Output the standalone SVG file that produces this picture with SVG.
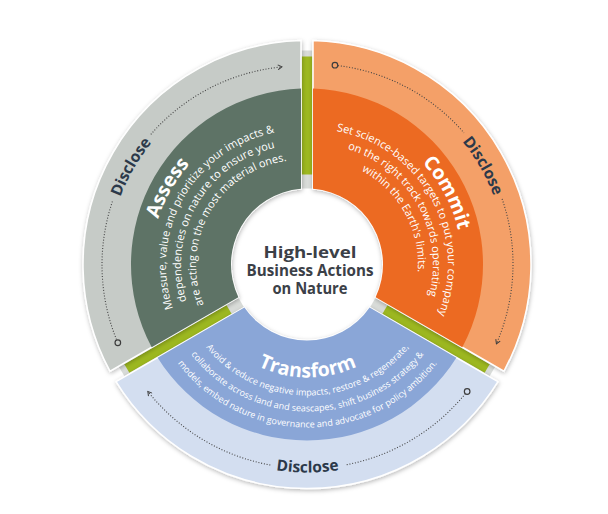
<svg xmlns="http://www.w3.org/2000/svg" width="608" height="514" viewBox="0 0 608 514">
<defs>
<style>
.disc{font-family:"Open Sans","Liberation Sans",sans-serif;font-weight:700;font-size:15.5px;fill:#2c394a}
.ttl{font-family:"Open Sans","Liberation Sans",sans-serif;font-weight:700;font-size:19.5px;fill:#ffffff}
.body{font-family:"Open Sans","Liberation Sans",sans-serif;font-size:11px;fill:#ffffff}
.small{font-size:9px}
.ctr{font-family:"Open Sans","Liberation Sans",sans-serif;font-weight:700;font-size:16px;fill:#3b4047}
.dots{fill:none;stroke:#454545;stroke-width:1.1;stroke-dasharray:1 1.8}
.ring{fill:none;stroke:#3d3d3d;stroke-width:1.2}
.edge{stroke:#ffffff;stroke-width:1.5}
.gapg{fill:#d9dcd9}
.bar{fill:#9db820}
</style>
<filter id="sh" x="-15%" y="-15%" width="130%" height="130%"><feDropShadow dx="0.5" dy="1.5" stdDeviation="2.2" flood-color="#000000" flood-opacity="0.28"/></filter>
<marker id="arr" viewBox="0 0 6 6" markerWidth="6" markerHeight="6" refX="5" refY="3" orient="auto" markerUnits="userSpaceOnUse"><path d="M1,0.6 L5,3 L1,5.4" fill="none" stroke="#3d3d3d" stroke-width="1"/></marker>
<path id="g-disc" d="M108,265 A193,193 0 0 1 204.5,97.86"/>
<path id="g-title" d="M153.28,291.05 A150,150 0 0 1 249.70,124.05"/>
<path id="g-l1" d="M205.54,360.46 A135,135 0 0 1 335.94,134.60"/>
<path id="g-l2" d="M216.15,349.85 A120,120 0 0 1 332.06,149.09"/>
<path id="g-l3" d="M226.75,339.25 A105,105 0 0 1 328.18,163.58"/>
<path id="o-disc" d="M409.5,96.86 A193,193 0 0 1 506,264"/>
<path id="o-title" d="M368.82,125.85 A149,149 0 0 1 458.75,294.98"/>
<path id="o-l1" d="M280.34,133.01 A135,135 0 0 1 406.78,361.11"/>
<path id="o-l2" d="M283.97,147.56 A120,120 0 0 1 396.36,350.32"/>
<path id="o-l3" d="M287.60,162.12 A105,105 0 0 1 385.94,339.53"/>
<path id="b-disc" d="M219.60,453.01 A208,208 0 0 0 395.40,453.01"/>
<path id="b-title" d="M234.86,351.06 A113,113 0 0 0 380.14,351.06"/>
<path id="b-l1" d="M184.40,309.30 A131,131 0 0 0 430.60,309.30"/>
<path id="b-l2" d="M169.37,314.78 A147,147 0 0 0 445.63,314.78"/>
<path id="b-l3" d="M154.33,320.25 A163,163 0 0 0 460.67,320.25"/>
</defs>
<rect width="608" height="514" fill="#ffffff"/>

<g id="gaps">
<g>
<rect class="gapg" x="301.5" y="50.5" width="11" height="138"/>
<rect class="bar" x="301.5" y="56.5" width="11" height="118"/>
</g>
<g transform="rotate(120 307 264.5)">
<rect class="gapg" x="301.5" y="50.5" width="11" height="138"/>
<rect class="bar" x="302" y="56.5" width="10" height="118"/>
</g>
<g transform="rotate(240 307 264.5)">
<rect class="gapg" x="301.5" y="50.5" width="11" height="138"/>
<rect class="bar" x="302" y="56.5" width="10" height="118"/>
</g>
</g>

<g id="node-assess">
<g filter="url(#sh)">
<path class="edge" fill="#c6cbc7" d="M110.09,371.26 A224,224 0 0 1 301,40.58 L301,188.74 A76,76 0 0 0 238.39,297.19 Z"/>
</g>
<path fill="#5e7366" d="M151.67,347.25 A176,176 0 0 1 301,88.6 L301,188.74 A76,76 0 0 0 238.39,297.19 Z"/>
<text class="disc" text-anchor="middle"><textPath href="#g-disc" startOffset="50%">Disclose</textPath></text>
<text class="ttl" text-anchor="middle"><textPath href="#g-title" startOffset="50%">Assess</textPath></text>
<text class="body" text-anchor="middle"><textPath href="#g-l1" startOffset="50%">Measure, value and prioritize your impacts &amp;</textPath></text>
<text class="body" text-anchor="middle"><textPath href="#g-l2" startOffset="50%">dependencies on nature to ensure you</textPath></text>
<text class="body" text-anchor="middle"><textPath href="#g-l3" startOffset="50%">are acting on the most material ones.</textPath></text>
</g>

<g id="node-commit">
<g filter="url(#sh)">
<path class="edge" fill="#f4a068" d="M313,40.58 A224,224 0 0 1 503.91,371.26 L375.61,297.19 A76,76 0 0 0 313,188.74 Z"/>
</g>
<path fill="#ec6a22" d="M313,88.6 A176,176 0 0 1 462.33,347.25 L375.61,297.19 A76,76 0 0 0 313,188.74 Z"/>
<text class="disc" text-anchor="middle"><textPath href="#o-disc" startOffset="50%">Disclose</textPath></text>
<text class="ttl" text-anchor="middle"><textPath href="#o-title" startOffset="50%">Commit</textPath></text>
<text class="body" text-anchor="middle"><textPath href="#o-l1" startOffset="50%">Set science-based targets to put your company</textPath></text>
<text class="body" text-anchor="middle"><textPath href="#o-l2" startOffset="50%">on the right track towards operating</textPath></text>
<text class="body" text-anchor="middle"><textPath href="#o-l3" startOffset="50%">within the Earth's limits.</textPath></text>
</g>

<g id="node-transform">
<g filter="url(#sh)">
<path class="edge" fill="#d3def0" d="M497.94,381.65 A224,224 0 0 1 116.06,381.65 L244.39,307.59 A76,76 0 0 0 369.61,307.59 Z"/>
</g>
<path fill="#8aa6d7" d="M456.35,357.64 A176,176 0 0 1 157.65,357.64 L244.39,307.59 A76,76 0 0 0 369.61,307.59 Z"/>
<text class="disc" text-anchor="middle"><textPath href="#b-disc" startOffset="50%">Disclose</textPath></text>
<text class="ttl" text-anchor="middle"><textPath href="#b-title" startOffset="50%">Transform</textPath></text>
<text class="body small" text-anchor="middle"><textPath href="#b-l1" startOffset="50%">Avoid &amp; reduce negative impacts, restore &amp; regenerate,</textPath></text>
<text class="body small" text-anchor="middle"><textPath href="#b-l2" startOffset="50%">collaborate across land and seascapes, shift business strategy &amp;</textPath></text>
<text class="body small" text-anchor="middle"><textPath href="#b-l3" startOffset="50%">models, embed nature in governance and advocate for policy ambition.</textPath></text>
</g>

<g id="node-center">
<text class="ctr" x="310" y="258" text-anchor="middle" textLength="93" lengthAdjust="spacingAndGlyphs">High-level</text>
<text class="ctr" x="310" y="276" text-anchor="middle" textLength="127" lengthAdjust="spacingAndGlyphs">Business Actions</text>
<text class="ctr" x="310" y="294" text-anchor="middle" textLength="75" lengthAdjust="spacingAndGlyphs">on Nature</text>
</g>

<g id="connectors">
<circle class="ring" cx="117.82" cy="342.76" r="2.8"/>
<path class="dots" d="M116.49,339.55 A199,199 0 0 1 112.84,200.21"/>
<path class="dots" d="M150.81,134.44 A199,199 0 0 1 281.93,66.92" marker-end="url(#arr)"/>
<circle class="ring" cx="334.95" cy="65.21" r="2.8"/>
<path class="dots" d="M338.07,65.58 A200,200 0 0 1 463.94,132.79"/>
<path class="dots" d="M502.10,198.89 A200,200 0 0 1 496.41,343.75" marker-end="url(#arr)"/>
<circle class="ring" cx="467.15" cy="391.49" r="2.8"/>
<path class="dots" d="M465.36,393.71 A204,204 0 0 1 346.43,464.75"/>
<path class="dots" d="M270.32,465.08 A204,204 0 0 1 147.85,391.49" marker-end="url(#arr)"/>
</g>
</svg>
